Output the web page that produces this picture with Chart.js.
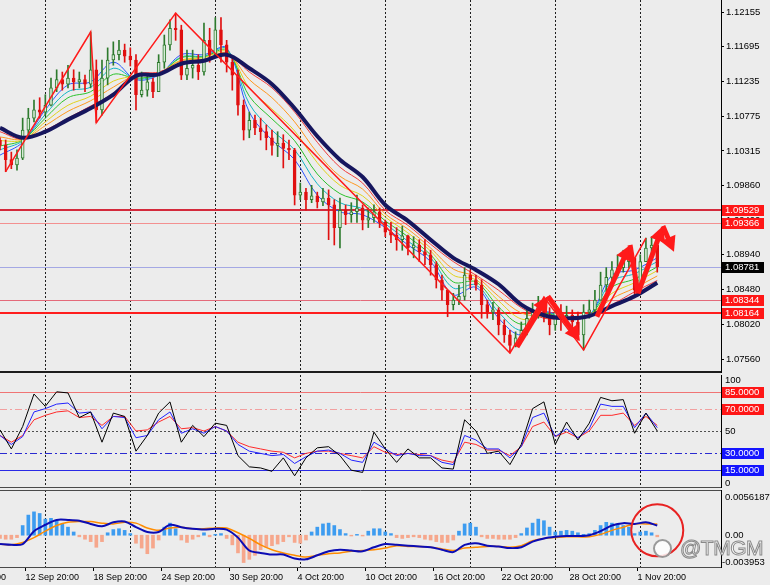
<!DOCTYPE html>
<html><head><meta charset="utf-8">
<script src="https://cdn.jsdelivr.net/npm/chart.js@4.4.1/dist/chart.umd.min.js"></script>
<style>
html,body{margin:0;padding:0;background:#ececec;width:770px;height:585px;overflow:hidden;position:relative;}
canvas{position:absolute;left:0;}
#wm{position:absolute;left:653px;top:537px;height:22px;display:flex;align-items:center;z-index:5;}
#wm .logo{width:15px;height:15px;border-radius:50%;border:2px solid rgba(120,120,120,0.75);background:rgba(255,255,255,0.85);margin-right:8px;}
#wm .txt{font:21px "Liberation Sans",Arial,sans-serif;color:rgba(255,255,255,0.9);-webkit-text-stroke:1px rgba(110,110,110,0.8);letter-spacing:-0.5px;}
</style></head><body>
<canvas id="c1" width="770" height="374" style="top:0"></canvas>
<canvas id="c2" width="770" height="114" style="top:374px"></canvas>
<canvas id="c3" width="770" height="97" style="top:488px"></canvas>
<div id="wm"><span class="logo"></span><span class="txt">@TMGM</span></div>
<script>
// ---------- DATA ----------
const firstOpen = 1.1046;
const closes = [1.1039,1.1020,1.1013,1.1022,1.1059,1.1075,1.1086,1.1083,1.1092,1.1115,
1.1126,1.1120,1.1128,1.1123,1.1126,1.1120,1.1139,1.1086,1.1128,1.1152,
1.1159,1.1165,1.1157,1.1152,1.1106,1.1112,1.1123,1.1110,1.1149,1.1172,
1.1194,1.1192,1.1132,1.1141,1.1145,1.1136,1.1178,1.1159,1.1192,1.1172,
1.1149,1.1132,1.1092,1.1059,1.1072,1.1062,1.1057,1.1049,1.1039,1.1042,
1.1035,1.1033,1.0973,1.0977,1.0967,1.0972,1.0964,1.0969,1.0960,1.0930,
1.0953,1.0947,1.0951,1.0956,1.0940,1.0943,1.0951,1.0937,1.0924,1.0920,
1.0914,1.0919,1.0903,1.0907,1.0898,1.0894,1.0881,1.0861,1.0847,1.0828,
1.0834,1.0839,1.0867,1.0861,1.0854,1.0828,1.0818,1.0821,1.0801,1.0788,
1.0774,1.0784,1.0794,1.0810,1.0818,1.0828,1.0813,1.0801,1.0818,1.0808,
1.0814,1.0805,1.0788,1.0818,1.0821,1.0834,1.0854,1.0864,1.0874,1.0877,
1.0885,1.0890,1.0847,1.0885,1.0903,1.0907,1.0878];
const highs = [1.1049,1.1046,1.1030,1.1033,1.1075,1.1088,1.1099,1.1102,1.1106,1.1128,
1.1139,1.1136,1.1145,1.1139,1.1136,1.1132,1.1189,1.1152,1.1152,1.1168,
1.1176,1.1178,1.1173,1.1168,1.1159,1.1136,1.1133,1.1128,1.1159,1.1185,
1.1205,1.1214,1.1198,1.1165,1.1165,1.1159,1.1201,1.1194,1.1208,1.1208,
1.1178,1.1155,1.1139,1.1099,1.1083,1.1079,1.1075,1.1066,1.1059,1.1057,
1.1053,1.1046,1.1035,1.0989,1.0982,1.0986,1.0977,1.0982,1.0980,1.0967,
1.0969,1.0960,1.0963,1.0973,1.0960,1.0956,1.0960,1.0956,1.0940,1.0937,
1.0930,1.0932,1.0920,1.0918,1.0914,1.0914,1.0900,1.0885,1.0867,1.0847,
1.0843,1.0854,1.0877,1.0874,1.0867,1.0861,1.0834,1.0831,1.0824,1.0808,
1.0794,1.0792,1.0805,1.0821,1.0830,1.0839,1.0838,1.0824,1.0828,1.0828,
1.0826,1.0821,1.0818,1.0828,1.0834,1.0847,1.0871,1.0877,1.0885,1.0894,
1.0900,1.0900,1.0890,1.0894,1.0916,1.0918,1.0914];
const lows = [1.1033,1.1004,1.1008,1.1006,1.1020,1.1053,1.1070,1.1075,1.1078,1.1091,
1.1110,1.1112,1.1115,1.1112,1.1115,1.1110,1.1115,1.1069,1.1079,1.1119,
1.1145,1.1152,1.1149,1.1144,1.1086,1.1103,1.1104,1.1102,1.1110,1.1141,
1.1165,1.1178,1.1126,1.1126,1.1128,1.1126,1.1132,1.1149,1.1155,1.1149,
1.1136,1.1112,1.1079,1.1046,1.1049,1.1053,1.1046,1.1033,1.1026,1.1024,
1.1009,1.1020,1.0960,1.0967,1.0953,1.0963,1.0956,1.0959,1.0914,1.0907,
1.0903,1.0934,1.0937,1.0937,1.0927,1.0930,1.0937,1.0930,1.0918,1.0910,
1.0900,1.0900,1.0894,1.0890,1.0885,1.0881,1.0867,1.0850,1.0834,1.0812,
1.0821,1.0828,1.0834,1.0850,1.0847,1.0810,1.0810,1.0808,1.0788,1.0778,
1.0764,1.0772,1.0781,1.0788,1.0808,1.0810,1.0805,1.0788,1.0794,1.0794,
1.0801,1.0794,1.0781,1.0768,1.0810,1.0814,1.0834,1.0845,1.0861,1.0866,
1.0871,1.0877,1.0837,1.0841,1.0885,1.0890,1.0871];

// moving-average ribbon, one value every 8 H4 bars (fast -> slow)
const ribbon1 = [1.1026,1.1043,1.1086,1.1119,1.1123,1.1149,1.1126,1.1132,1.1159,1.1159,1.1168,1.1083,1.1046,1.1020,1.0973,1.0951,1.0947,1.0930,1.0907,1.0885,1.0841,1.0851,1.0810,1.0788,1.0818,1.0810,1.0814,1.0867,1.0874,1.0890];
const ribbon2 = [1.1033,1.1045,1.1080,1.1110,1.1116,1.1141,1.1127,1.1133,1.1156,1.1157,1.1167,1.1094,1.1059,1.1033,1.0988,1.0963,1.0955,1.0935,1.0912,1.0890,1.0850,1.0854,1.0818,1.0794,1.0817,1.0810,1.0814,1.0859,1.0869,1.0885];
const ribbon3 = [1.1038,1.1046,1.1075,1.1102,1.1110,1.1133,1.1128,1.1133,1.1155,1.1156,1.1165,1.1104,1.1074,1.1045,1.1001,1.0975,1.0964,1.0939,1.0918,1.0894,1.0858,1.0858,1.0825,1.0802,1.0816,1.0810,1.0814,1.0851,1.0862,1.0878];
const ribbon4 = [1.1045,1.1046,1.1070,1.1092,1.1104,1.1124,1.1131,1.1135,1.1152,1.1155,1.1163,1.1115,1.1087,1.1058,1.1016,1.0986,1.0972,1.0944,1.0923,1.0899,1.0867,1.0861,1.0833,1.0809,1.0813,1.0810,1.0814,1.0843,1.0857,1.0873];
const ribbon5 = [1.1050,1.1047,1.1065,1.1084,1.1098,1.1116,1.1132,1.1135,1.1151,1.1153,1.1161,1.1126,1.1102,1.1070,1.1029,1.0998,1.0981,1.0948,1.0928,1.0903,1.0875,1.0865,1.0839,1.0817,1.0812,1.0810,1.0814,1.0836,1.0850,1.0866];
const ribbon6 = [1.1057,1.1047,1.1059,1.1075,1.1091,1.1108,1.1133,1.1136,1.1148,1.1152,1.1160,1.1136,1.1115,1.1083,1.1043,1.1010,1.0989,1.0953,1.0933,1.0908,1.0885,1.0867,1.0847,1.0824,1.0810,1.0810,1.0814,1.0828,1.0845,1.0860];
const slowMA  = [1.1062,1.1049,1.1057,1.1073,1.1088,1.1106,1.1131,1.1133,1.1147,1.1151,1.1159,1.1141,1.1120,1.1088,1.1051,1.1020,1.0997,1.0960,1.0939,1.0914,1.0890,1.0874,1.0855,1.0828,1.0814,1.0810,1.0813,1.0826,1.0839,1.0857];

const zigzagBars   = [2,32,34,62,180,192,206,228];
const zigzagPrices = [1.1004,1.1189,1.1069,1.1214,1.0764,1.0838,1.0768,1.0916];

const arrowStartBars   = [182.5,193.4,210.7,222.4,225.2,234.0];
const arrowStartPrices = [1.0772,1.0839,1.0812,1.0907,1.0843,1.0932];
const arrowEndBars     = [193.4,204.7,222.4,225.2,234.0,237.9];
const arrowEndPrices   = [1.0839,1.0780,1.0907,1.0843,1.0932,1.0898];
const arrowHeads       = [1,1,1,0,1,1];

const priceTicks  = [1.12155,1.11695,1.11235,1.10775,1.10315,1.09860,1.09400,1.08940,1.08480,1.08020,1.07560];
const priceLevels = [1.09529,1.09366,1.08781,1.08344,1.08164];
const priceMin = 1.07388, priceMax = 1.12314;

// RSI-type oscillators, one value every 4 H4 bars
const rsiFast = [51,34,54,83,72,85,84,62,67,40,66,63,32,46,66,76,40,55,45,57,55,28,18,17,14,26,10,26,35,36,28,15,13,49,34,22,34,26,26,17,16,60,50,30,32,20,38,70,76,38,58,42,57,80,77,78,48,66,50];
const rsiMid  = [46,38,45,67,70,74,75,66,67,52,63,62,44,46,60,67,48,52,48,54,50,38,32,30,28,29,21,27,32,33,30,24,22,40,34,28,30,28,28,22,20,46,42,34,34,26,36,62,66,45,52,44,52,74,72,72,53,66,53];
const rsiSlow = [46,40,46,60,64,67,68,62,63,55,63,63,50,51,58,63,52,53,50,54,50,40,36,34,32,31,26,30,32,32,30,28,26,36,31,29,30,29,28,24,22,40,38,33,33,28,36,54,58,45,49,44,50,64,64,66,55,63,55];
const rsiLevels = [85,70,50,30,15];

// MACD
const macdHist = [-0.0004,-0.0005,-0.0005,-0.0003,0.0012,0.0025,0.0029,0.0027,0.0020,0.0021,
0.0018,0.0014,0.0010,0.0004,-0.0002,-0.0005,-0.0008,-0.0015,-0.0008,0.0003,
0.0007,0.0008,0.0006,0.0002,-0.0010,-0.0016,-0.0023,-0.0016,-0.0006,0.0010,
0.0015,0.0008,-0.0006,-0.0009,-0.0005,-0.0002,0.0003,-0.0002,0.0001,0.0002,
-0.0004,-0.0012,-0.0022,-0.0034,-0.0030,-0.0025,-0.0018,-0.0015,-0.0013,-0.0011,
-0.0008,-0.0002,-0.0009,-0.0010,-0.0006,0.0004,0.0010,0.0014,0.0015,0.0012,
0.0007,0.0002,-0.0001,0.0001,-0.0001,0.0005,0.0008,0.0008,0.0004,0.0002,
-0.0003,-0.0004,-0.0003,-0.0002,-0.0003,-0.0005,-0.0006,-0.0008,-0.0009,-0.0009,
-0.0006,0.0005,0.0014,0.0015,0.0010,-0.0002,-0.0004,-0.0004,-0.0005,-0.0005,
-0.0005,-0.0003,0.0002,0.0009,0.0015,0.0020,0.0018,0.0010,0.0004,0.0005,
0.0006,0.0005,0.0003,0.0001,0.0002,0.0006,0.0012,0.0016,0.0015,0.0014,
0.0012,0.0010,0.0002,0.0004,0.0005,0.0003,-0.0002];
const macdLine = [-0.0011,-0.0012,-0.0011,0.0005,0.0013,0.0019,0.0019,0.0018,0.0014,0.0011,
0.0016,0.0017,0.0010,0.0004,0.0004,0.0013,0.0010,0.0008,0.0007,0.0008,
0.0007,-0.0003,-0.0019,-0.0022,-0.0024,-0.0024,-0.0029,-0.0030,-0.0025,-0.0020,
-0.0018,-0.0019,-0.0020,-0.0015,-0.0011,-0.0012,-0.0013,-0.0014,-0.0015,-0.0018,
-0.0021,-0.0012,-0.0010,-0.0013,-0.0014,-0.0016,-0.0015,-0.0008,-0.0004,-0.0002,
-0.0001,-0.0001,0.0000,0.0005,0.0012,0.0015,0.0014,0.0016,0.0012];
const macdSignal = [-0.0011,-0.0012,-0.0009,-0.0003,0.0005,0.0012,0.0016,0.0017,0.0017,0.0015,
0.0014,0.0016,0.0015,0.0009,0.0006,0.0009,0.0010,0.0008,0.0008,0.0009,
0.0009,0.0003,-0.0004,-0.0012,-0.0018,-0.0022,-0.0025,-0.0027,-0.0025,-0.0023,
-0.0022,-0.0020,-0.0019,-0.0018,-0.0016,-0.0013,-0.0014,-0.0014,-0.0015,-0.0017,
-0.0019,-0.0016,-0.0015,-0.0014,-0.0014,-0.0015,-0.0013,-0.0007,-0.0004,-0.0003,
-0.0002,-0.0002,-0.0002,0.0001,0.0006,0.0010,0.0014,0.0014,0.0014];
const macdMax = 0.0056187, macdMin = -0.003953;
const circleBar = 232, circleValue = 0.0006;

const dateLabels    = ['6 Sep 20:00','12 Sep 20:00','18 Sep 20:00','24 Sep 20:00','30 Sep 20:00','4 Oct 20:00','10 Oct 20:00','16 Oct 20:00','22 Oct 20:00','28 Oct 20:00','1 Nov 20:00'];
const dateLabelBars = [-15,9,33,57,81,105,129,153,177,201,225];
const gridBars      = [16,46,76,106,136,166,196,226];

// ---------- STYLES / HELPERS ----------
const XMAX = 254.5;
const FONT = '"Liberation Sans", Arial, sans-serif';
const CANDLE_STEP = 2, MA_STEP = 8, OSC_STEP = 4;
const BULL = '#2d7a2d', BULL_FILL = '#d6ecd6', BEAR = '#e01010';
const BOX_RED = '#ff1616', BOX_BLUE = '#1515ff';

const pts = (arr, step) => arr.map((v, i) => ({x: i * step, y: v}));
const opens = closes.map((c, i) => i ? closes[i - 1] : firstOpen);
const isUp = closes.map((c, i) => c >= opens[i]);

function lineDs(data, color, width, order, tension) {
  return {type: 'line', data, borderColor: color, borderWidth: width, pointRadius: 0,
          tension: tension || 0, fill: false, order};
}
function gridAxis(borderColor, borderWidth, height) {
  return {type: 'linear', min: 0, max: XMAX, offset: false, bounds: 'data', position: 'bottom',
    afterBuildTicks: s => { s.ticks = gridBars.map(v => ({value: v})); },
    afterFit: s => { s.height = height; s.paddingLeft = 0; s.paddingRight = 0; },
    ticks: {display: false},
    grid: {display: true, color: '#1e1e1e', lineWidth: 1, drawTicks: false, offset: false},
    border: {display: borderWidth > 0, color: borderColor, width: Math.max(borderWidth, 1), dash: [2, 2]}};
}
function rightAxis(min, max, showTicks) {
  return {type: 'linear', position: 'right', min, max, bounds: 'data',
    afterFit: s => { s.width = 49; s.paddingTop = 0; s.paddingBottom = 0; },
    ticks: {display: showTicks, autoSkip: false, color: '#000', padding: 2,
            font: {family: FONT, size: 9.5}},
    grid: {drawOnChartArea: false, drawTicks: showTicks, tickLength: 3, color: '#000'},
    border: {display: true, color: '#000', width: 1}};
}

const levelPlugin = {
  id: 'levels',
  beforeDatasetsDraw(chart, args, o) {
    const {ctx, chartArea: a} = chart, y = chart.scales.y;
    (o.lines || []).forEach(l => {
      const py = Math.round(y.getPixelForValue(l.value)) + (l.width % 2 ? 0.5 : 0);
      ctx.save();
      ctx.strokeStyle = l.color; ctx.lineWidth = l.width; ctx.setLineDash(l.dash || []);
      ctx.beginPath(); ctx.moveTo(a.left, py); ctx.lineTo(a.right, py); ctx.stroke();
      ctx.restore();
    });
  },
  afterDraw(chart, args, o) {
    const {ctx, chartArea: a} = chart, y = chart.scales.y;
    ctx.save();
    if (o.topLine) { ctx.strokeStyle = o.topLine; ctx.lineWidth = 1; ctx.beginPath();
      ctx.moveTo(0, a.top + 0.5); ctx.lineTo(a.right, a.top + 0.5); ctx.stroke(); }
    ctx.font = '9.5px ' + FONT; ctx.textBaseline = 'middle'; ctx.textAlign = 'left';
    (o.labels || []).forEach(l => {
      const py = Math.round(y.getPixelForValue(l.value) + (l.dy || 0));
      if (l.bg) {
        ctx.fillStyle = l.bg; ctx.fillRect(a.right + 1, py - 5, 42, 11);
        ctx.fillStyle = '#fff';
      } else ctx.fillStyle = '#000';
      ctx.fillText(l.text, a.right + (l.dx === undefined ? 4 : l.dx), py + 0.5);
    });
    ctx.restore();
  }
};

const arrowPlugin = {
  id: 'arrows',
  afterDatasetsDraw(chart, args, o) {
    if (!o.enabled) return;
    const {ctx} = chart, xs = chart.scales.x, ys = chart.scales.y;
    ctx.save();
    ctx.strokeStyle = '#ff1a1a'; ctx.fillStyle = '#ff1a1a'; ctx.lineWidth = 5; ctx.lineJoin = 'round';
    arrowStartBars.forEach((b, i) => {
      const x0 = xs.getPixelForValue(b), y0 = ys.getPixelForValue(arrowStartPrices[i]);
      const x1 = xs.getPixelForValue(arrowEndBars[i]), y1 = ys.getPixelForValue(arrowEndPrices[i]);
      const ang = Math.atan2(y1 - y0, x1 - x0), L = 15, W = 8;
      const c = Math.cos(ang), s = Math.sin(ang);
      const ex = arrowHeads[i] ? x1 - c * L * 0.7 : x1, ey = arrowHeads[i] ? y1 - s * L * 0.7 : y1;
      ctx.beginPath(); ctx.moveTo(x0, y0); ctx.lineTo(ex, ey); ctx.stroke();
      if (arrowHeads[i]) {
        const bx = x1 - c * L, by = y1 - s * L;
        ctx.beginPath(); ctx.moveTo(x1, y1);
        ctx.lineTo(bx - s * W, by + c * W); ctx.lineTo(bx + s * W, by - c * W);
        ctx.closePath(); ctx.fill();
      }
    });
    ctx.restore();
  }
};

const circlePlugin = {
  id: 'circle',
  afterDraw(chart, args, o) {
    if (!o.enabled) return;
    const {ctx} = chart;
    const cx = chart.scales.x.getPixelForValue(circleBar), cy = chart.scales.y.getPixelForValue(circleValue);
    ctx.save(); ctx.strokeStyle = '#e82222'; ctx.lineWidth = 2;
    ctx.beginPath(); ctx.arc(cx, cy, 26, 0, Math.PI * 2); ctx.stroke(); ctx.restore();
  }
};

const common = {responsive: false, animation: false, events: [], devicePixelRatio: 1,
  plugins: {legend: {display: false}, tooltip: {enabled: false}}};

// ---------- MAIN PRICE PANEL ----------
const candleX = closes.map((c, i) => i * CANDLE_STEP);
const ribbonColors = ['#2a55ff', '#12b4c4', '#2cc22c', '#e0d21e', '#ff9820', '#f03c3c'];
const ribbons = [ribbon1, ribbon2, ribbon3, ribbon4, ribbon5, ribbon6];

const mainDatasets = [
  lineDs(zigzagBars.map((b, i) => ({x: b, y: zigzagPrices[i]})), '#ff1a1a', 1.5, 0, 0),
  lineDs(pts(slowMA, MA_STEP), '#16165e', 4, 1, 0.35),
  {type: 'bar', data: candleX.map((x, i) => ({x, y: [opens[i], closes[i]]})),
   backgroundColor: isUp.map(u => u ? BULL_FILL : BEAR), borderColor: isUp.map(u => u ? BULL : BEAR),
   borderWidth: 1, borderSkipped: false, barThickness: 3, grouped: false, order: 2},
  {type: 'bar', data: candleX.map((x, i) => ({x, y: [lows[i], highs[i]]})),
   backgroundColor: isUp.map(u => u ? BULL : BEAR), barThickness: 1, grouped: false, order: 3},
];
ribbons.forEach((r, i) => mainDatasets.push(lineDs(pts(r, MA_STEP), ribbonColors[i], 1, 10 - i, 0.35)));

const mainStyles = [
  {color: '#d42a3c', width: 2, box: BOX_RED},
  {color: '#f39090', width: 1, box: BOX_RED},
  {color: '#a4a8e4', width: 1, box: '#000'},
  {color: '#e46a7a', width: 1, box: BOX_RED},
  {color: '#ff1e1e', width: 2, box: BOX_RED}];

const yMain = rightAxis(priceMin, priceMax, true);
yMain.afterBuildTicks = s => { s.ticks = priceTicks.map(v => ({value: v})); };
yMain.ticks.callback = v => v.toFixed(5);

new Chart(document.getElementById('c1'), {
  type: 'line',
  data: {datasets: mainDatasets},
  options: Object.assign({}, common, {
    layout: {padding: 0},
    scales: {x: gridAxis('#1c1c1c', 2, 2), y: yMain},
    plugins: Object.assign({}, common.plugins, {
      levels: {
        lines: priceLevels.map((v, i) => ({value: v, color: mainStyles[i].color, width: mainStyles[i].width})),
        labels: priceLevels.map((v, i) => ({value: v, text: v.toFixed(5), bg: mainStyles[i].box}))
      },
      arrows: {enabled: true}
    })
  }),
  plugins: [levelPlugin, arrowPlugin]
});

// ---------- RSI PANEL ----------
const rsiStyles = [
  {color: '#f07474', dash: [], box: BOX_RED},
  {color: '#f2a0a0', dash: [7, 3, 2, 3], box: BOX_RED},
  {color: '#505050', dash: [2, 2], box: null},
  {color: '#2a2ad0', dash: [7, 3, 2, 3], box: BOX_BLUE},
  {color: '#2a2ae6', dash: [], box: BOX_BLUE}];

new Chart(document.getElementById('c2'), {
  type: 'line',
  data: {datasets: [
    lineDs(pts(rsiFast, OSC_STEP), '#000000', 1, 0, 0),
    lineDs(pts(rsiMid, OSC_STEP), '#2222ff', 1, 1, 0),
    lineDs(pts(rsiSlow, OSC_STEP), '#ff2a2a', 1, 2, 0)]},
  options: Object.assign({}, common, {
    layout: {padding: {top: 1}},
    scales: {x: gridAxis('#4a4a4a', 1, 1), y: rightAxis(0, 100, false)},
    plugins: Object.assign({}, common.plugins, {
      levels: {
        lines: rsiLevels.map((v, i) => ({value: v, color: rsiStyles[i].color, width: 1, dash: rsiStyles[i].dash})),
        labels: rsiLevels.filter((v, i) => rsiStyles[i].box).map(v => ({value: v, text: v.toFixed(4),
                   bg: rsiStyles[rsiLevels.indexOf(v)].box}))
          .concat([{value: 100, text: '100', dy: 5}, {value: 50, text: '50'}, {value: 0, text: '0', dy: -4}])
      }
    })
  }),
  plugins: [levelPlugin]
});

// ---------- MACD PANEL ----------
const xLabels = {type: 'linear', min: 0, max: XMAX, offset: false, bounds: 'data', position: 'bottom',
  afterBuildTicks: s => { s.ticks = dateLabelBars.map(v => ({value: v})); },
  afterFit: s => { s.height = 18; s.paddingLeft = 0; s.paddingRight = 0; },
  ticks: {autoSkip: false, maxRotation: 0, minRotation: 0, align: 'start', padding: 1,
          color: '#000', font: {family: FONT, size: 9}, callback: (v, i) => dateLabels[i]},
  grid: {drawOnChartArea: false, drawTicks: true, tickLength: 4, color: '#000'},
  border: {display: true, color: '#4a4a4a', width: 1}};

new Chart(document.getElementById('c3'), {
  type: 'line',
  data: {datasets: [
    lineDs(pts(macdLine, OSC_STEP), '#0c0cb4', 2, 0, 0.3),
    lineDs(pts(macdSignal, OSC_STEP), '#ff8c00', 1.5, 1, 0.3),
    {type: 'bar', data: pts(macdHist, CANDLE_STEP),
     backgroundColor: macdHist.map(v => v >= 0 ? '#3d9cf0' : '#f6a78c'),
     barThickness: 3, grouped: false, order: 2}]},
  options: Object.assign({}, common, {
    layout: {padding: {top: 2}},
    scales: {x: gridAxis('#4a4a4a', 0, 0), xl: xLabels, y: rightAxis(macdMin, macdMax, false)},
    plugins: Object.assign({}, common.plugins, {
      levels: {
        topLine: '#4a4a4a',
        labels: [{value: macdMax, text: '0.0056187', dy: 7},
                 {value: 0, text: '0.00'},
                 {value: macdMin, text: '-0.003953', dy: -5, dx: 1}]
      },
      circle: {enabled: true}
    })
  }),
  plugins: [levelPlugin, circlePlugin]
});
</script>
</body></html>
